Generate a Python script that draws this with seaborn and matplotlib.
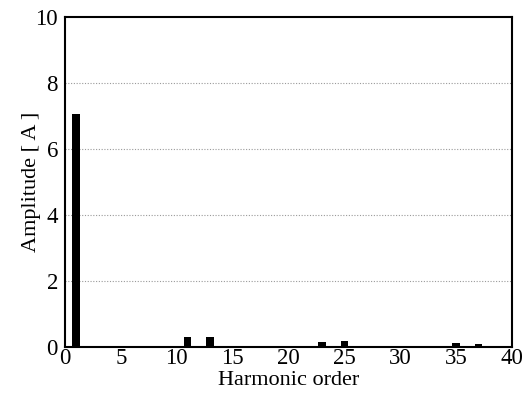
import matplotlib
matplotlib.use("Agg")
import matplotlib.pyplot as plt
from matplotlib.ticker import MultipleLocator
import seaborn as sns
import pandas as pd

# Harmonic spectrum of the current
harmonic_order = [1, 11, 13, 23, 25, 35, 37]
amplitude = [7.07, 0.30, 0.31, 0.16, 0.18, 0.12, 0.10]

x_ticks = [0, 5, 10, 15, 20, 25, 30, 35, 40]
y_ticks = [0, 2, 4, 6, 8, 10]

df = pd.DataFrame({"order": harmonic_order, "amp": amplitude})

sns.set_theme(style="white")
plt.rcParams["font.family"] = ["Liberation Serif", "DejaVu Serif"]
plt.rcParams["text.color"] = "black"
plt.rcParams["axes.labelcolor"] = "black"

fig = plt.figure(figsize=(5.32, 3.98), dpi=100)
ax = fig.add_axes([0.122, 0.128, 0.840, 0.830])

sns.barplot(data=df, x="order", y="amp", native_scale=True, width=0.33,
            color="black", edgecolor="black", linewidth=0, saturation=1,
            ax=ax)

ax.set_xlim(0, 40)
ax.set_ylim(0, 10)
ax.set_xticks(x_ticks)
ax.set_yticks(y_ticks)
ax.xaxis.set_minor_locator(MultipleLocator(2.5))
ax.yaxis.set_minor_locator(MultipleLocator(1))
ax.tick_params(axis="both", which="both", direction="in", top=False, right=False,
               labelsize=16.5, colors="black")
ax.tick_params(axis="x", which="major", length=5, width=1.2, pad=1)
ax.tick_params(axis="y", which="major", length=5, width=1.2, pad=5)
ax.tick_params(axis="both", which="minor", length=3, width=1.2)

for y in [2, 4, 6, 8]:
    ax.axhline(y, color="#9a9a9a", linestyle=(0, (1, 1.5)), linewidth=0.8, zorder=0)

for s in ax.spines.values():
    s.set_visible(True)
    s.set_color("black")
    s.set_linewidth(1.5)

ax.set_xlabel("Harmonic order", fontsize=16, labelpad=1, color="black")
ax.set_ylabel("Amplitude [ A ]", fontsize=16, labelpad=-4, color="black")

fig.savefig("out.png", dpi=100)
